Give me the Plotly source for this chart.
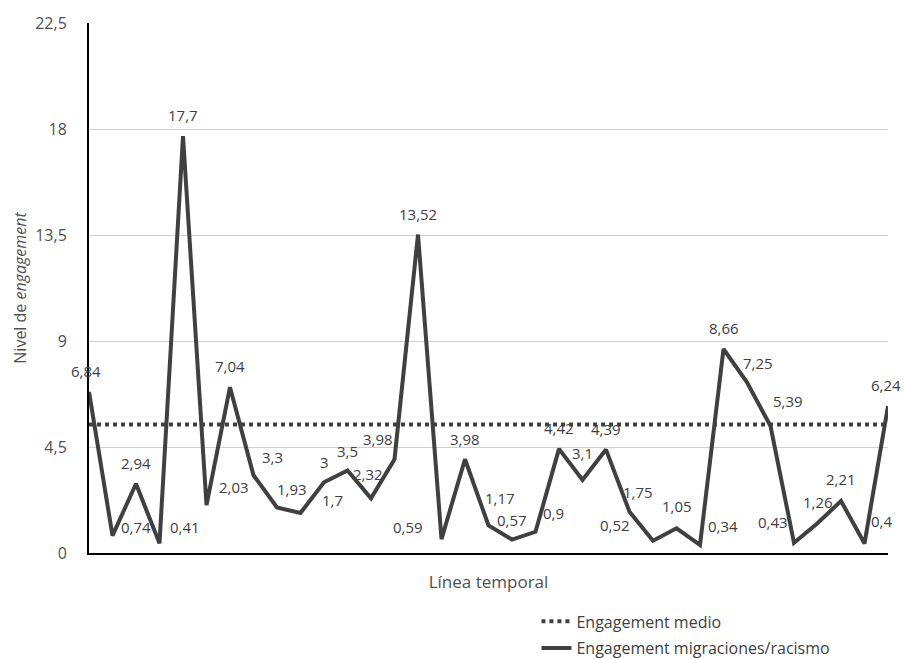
import plotly.graph_objects as go

# Data
engagement = [6.84, 0.74, 2.94, 0.41, 17.7, 2.03, 7.04, 3.3, 1.93, 1.7, 3, 3.5,
              2.32, 3.98, 13.52, 0.59, 3.98, 1.17, 0.57, 0.9, 4.42, 3.1, 4.39,
              1.75, 0.52, 1.05, 0.34, 8.66, 7.25, 5.39, 0.43, 1.26, 2.21, 0.4, 6.24]
engagement_medio = 5.45
y_ticks = [0, 4.5, 9, 13.5, 18, 22.5]

# Label offsets (pixels) relative to each point - style only
label_dx = [-3, 23, 0, 25, 0, 27, 0, 19, 15, 32, 0, 0, -3, -17, 0, -34, 0, 11, 0, 18,
            0, 0, 0, 8, -38, 0, 23, 0, 11, 17, -21, 0, 0, 17, -2]
label_dy = [21, 9, 21, 16, 21, 18, 21, 18, 19, 13, 20, 20, 24, 20, 21, 12, 20, 27, 20, 19,
            21, 27, 21, 20, 16, 22, 19, 21, 19, 25, 21, 21, 22, 23, 21]

x = list(range(len(engagement)))
labels = [str(v).replace(".", ",") for v in engagement]

dark = "#404040"
fig = go.Figure()
fig.add_trace(go.Scatter(
    x=[x[0], x[-1]], y=[engagement_medio, engagement_medio], mode="lines",
    name="Engagement medio", legendgroup="a",
    line=dict(color=dark, width=4, dash="4px,4px"), cliponaxis=False,
))
fig.add_trace(go.Scatter(
    x=x, y=engagement, mode="lines", name="Engagement migraciones/racismo",
    legendgroup="b",
    line=dict(color=dark, width=4), cliponaxis=False,
))

annotations = []
for xi, yi, t, dx, dy in zip(x, engagement, labels, label_dx, label_dy):
    annotations.append(dict(x=xi, y=yi, xref="x", yref="y", text=t, showarrow=False,
                            xshift=dx, yshift=dy,
                            font=dict(size=15, color=dark, family="Open Sans")))

fig.update_layout(
    width=904, height=659,
    margin=dict(l=89, r=16, t=23, b=106, autoexpand=False),
    paper_bgcolor="white", plot_bgcolor="white",
    separators=",.",
    font=dict(family="Open Sans", color="#505050", size=16),
    showlegend=True,
    annotations=annotations,
    legend=dict(x=0.56, y=-0.097, xanchor="left", yanchor="top",
                font=dict(size=16, color=dark), bgcolor="rgba(0,0,0,0)",
                tracegroupgap=3),
    xaxis=dict(range=[0, 34], showticklabels=False, showgrid=False, zeroline=False,
               showline=True, linecolor="#000000", linewidth=2,
               title=dict(text="Línea temporal", font=dict(size=17, color="#505050"),
                          standoff=22)),
    yaxis=dict(range=[0, 22.5], tickvals=y_ticks, showgrid=True, gridcolor="#d0d0d0",
               gridwidth=1, zeroline=False, showline=True, linecolor="#000000",
               linewidth=2, ticklabelstandoff=17,
               tickfont=dict(size=16, color="#505050"),
               title=dict(text="Nivel de <i>engagement</i>",
                          font=dict(size=16, color="#505050"), standoff=5)),
)

fig.write_html("out.html", config={"displayModeBar": False},
               post_script="document.body.style.margin='0';")
